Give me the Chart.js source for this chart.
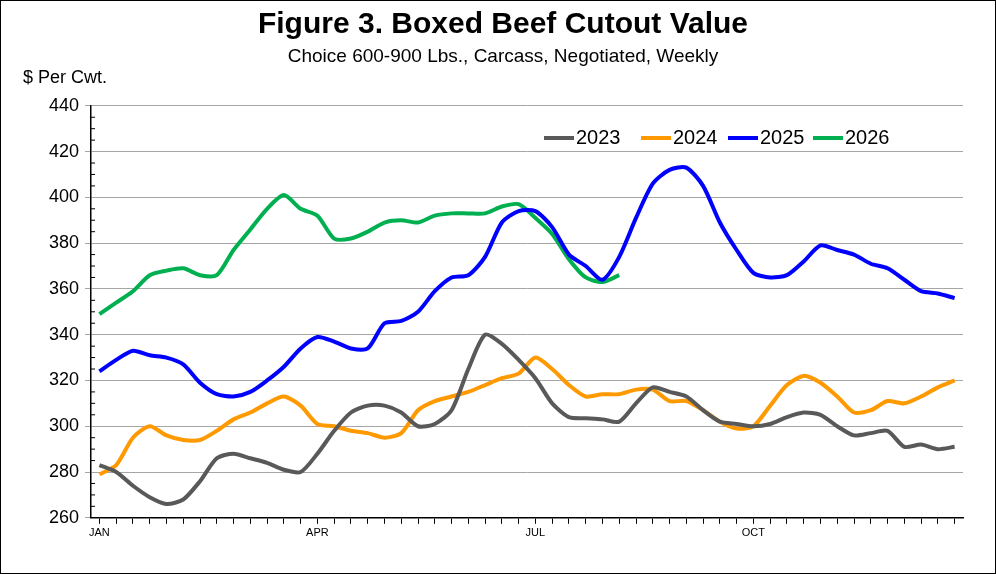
<!DOCTYPE html>
<html><head><meta charset="utf-8">
<script src="https://cdn.jsdelivr.net/npm/chart.js@4"></script>
<style>
html,body{margin:0;padding:0;background:#fff;}
#wrap{position:relative;width:994px;height:572px;border:1px solid #000;}
canvas{display:block;}
</style></head><body>
<div id="wrap"><canvas id="c" width="994" height="572"></canvas></div>
<script>
const weeks = Array.from({length:52},(_,i)=>i+1);
const monthLabels = {0:'JAN',13:'APR',26:'JUL',39:'OCT'};
const s2023 = [283,280,274,269,266,268,276,286,288,286,284,281,280,288,298,306,309,309,306,300,301,307,325,340,336,329,321,310,304,303.5,303,302,310,317,315,313,307,302,301,300,301,304,306,305,300,296,297,298,291,292,290,291];
const s2024 = [279,283,295,300,296,294,294,298,303,306,310,313,309,301,300,298,297,295,297,307,311,313,315,318,321,323,330,325,318,313,314,314,316,316,311,311,307,302,299,300,309,318,322,319,313,306,307,311,310,313,317,320];
const s2025 = [324,329,333,331,330,327,319,314,313,315,320,326,334,339,337,334,334,345,346,350,359,365,366,374,389,394,394,387,375,370,364,374,391,406,412,413,405,389,377,367,365,366,372,379,377,375,371,369,364,359,358,356];
const s2026 = [349,354,359,366,368,369,366,366,377,386,395,401,395,392,382,382,385,389,390,389,392,393,393,393,396,397,391,384,373,365,363,366];
const seriesNames = ['2023','2024','2025','2026'];
const colors = ['#595959','#FF9900','#0000FF','#00B050'];
const all=[s2023,s2024,s2025,s2026];

const legendPlugin={id:'lg',afterDraw(ch){
  const c=ch.ctx; c.save(); c.font='20px Arial'; c.textBaseline='middle';
  const xs=[543,640,727,812], y=137;
  seriesNames.forEach((n,i)=>{c.strokeStyle=colors[i];c.lineWidth=4;c.beginPath();c.moveTo(xs[i],y);c.lineTo(xs[i]+30,y);c.stroke();c.fillStyle='#000';c.fillText(n,xs[i]+32,y);});
  c.font='18px Arial';c.fillText('$ Per Cwt.',22,77);
  // minor y ticks
  const ya=ch.scales.y, xl=ch.chartArea.left;
  c.strokeStyle='#000';c.lineWidth=1;
  for(let v=265;v<440;v+=5){ if(v%20===0)continue; const py=ya.getPixelForValue(v); c.beginPath();c.moveTo(xl,py);c.lineTo(xl+4,py);c.stroke();}
  c.restore();
}};
new Chart(document.getElementById('c'),{
  type:'line',
  data:{labels:weeks,datasets:all.map((d,i)=>({label:seriesNames[i],data:d,borderColor:colors[i],borderWidth:4,pointRadius:0,tension:0.25,fill:false}))},
  options:{responsive:false,animation:false,
    layout:{padding:{left:42,right:32,top:0,bottom:30}},
    plugins:{legend:{display:false},
      title:{display:true,text:'Figure 3. Boxed Beef Cutout Value',font:{family:'Arial',size:30,weight:'bold'},color:'#000',padding:{top:6,bottom:0}},
      subtitle:{display:true,text:'Choice 600-900 Lbs., Carcass, Negotiated, Weekly',font:{family:'Arial',size:19},color:'#000',padding:{top:2,bottom:38}}},
    scales:{
      x:{offset:true,grid:{display:true,drawOnChartArea:false,color:'#000',tickLength:6},border:{color:'#000',width:1.5},
        ticks:{autoSkip:false,maxRotation:0,color:'#000',font:{family:'Arial',size:11},callback:(v,i)=>monthLabels[i]||''}},
      y:{min:260,max:440,grid:{color:'#a6a6a6',tickLength:6},border:{color:'#000',width:1.5},
        ticks:{stepSize:20,color:'#000',font:{family:'Arial',size:18},padding:6}}
    }},
  plugins:[legendPlugin]
});
</script></body></html>
